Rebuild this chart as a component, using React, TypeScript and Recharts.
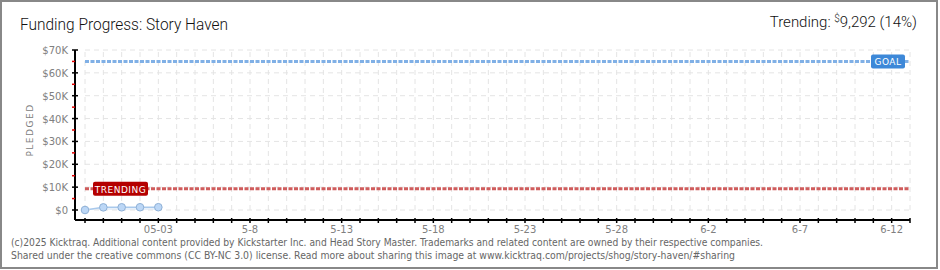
import React from 'react';
import { ComposedChart, Area, XAxis, YAxis, ReferenceLine } from 'recharts';

const days = [
  '4-29', '4-30', '5-1', '5-2', '5-3', '5-4', '5-5', '5-6', '5-7', '5-8',
  '5-9', '5-10', '5-11', '5-12', '5-13', '5-14', '5-15', '5-16', '5-17', '5-18',
  '5-19', '5-20', '5-21', '5-22', '5-23', '5-24', '5-25', '5-26', '5-27', '5-28',
  '5-29', '5-30', '5-31', '6-1', '6-2', '6-3', '6-4', '6-5', '6-6', '6-7',
  '6-8', '6-9', '6-10', '6-11', '6-12', '6-13',
];
const labelDays = ['5-3', '5-8', '5-13', '5-18', '5-23', '5-28', '6-2', '6-7', '6-12'];
const tickLabels = ['05-03', '5-8', '5-13', '5-18', '5-23', '5-28', '6-2', '6-7', '6-12'];
const pledged = [0, 1150, 1180, 1200, 1220];
const yTicks = [0, 5000, 10000, 15000, 20000, 25000, 30000, 35000, 40000, 45000, 50000, 55000, 60000, 65000, 70000];
const yGrid = [0, 10000, 20000, 30000, 40000, 50000, 60000, 70000];
const goal = 65000;
const trending = 9292;

const data = pledged.map((v, i) => ({ day: i, pledged: v }));
const lastDay = days.length - 1;

const tickFont = 'DejaVu Sans, sans-serif';

function YTick(props: any) {
  const { x, y, payload } = props;
  const major = payload.value % 10000 === 0;
  return (
    <g>
      {major ? (
        <line x1={x - 3} x2={x + 3} y1={y} y2={y} stroke="#000" strokeWidth={1.5} />
      ) : (
        <line x1={x - 3} x2={x} y1={y} y2={y} stroke="#e00000" strokeWidth={1.5} />
      )}
      {major && (
        <text x={x - 7} y={y + 4} textAnchor="end" fontSize={10} fill="#808080" fontFamily={tickFont}>
          ${payload.value / 1000 > 0 ? payload.value / 1000 + 'K' : '0'}
        </text>
      )}
    </g>
  );
}

function XTick(props: any) {
  const { x, y, payload } = props;
  const idx = labelDays.indexOf(days[payload.value]);
  return (
    <g>
      <line x1={x} x2={x} y1={y - 2} y2={y + 3} stroke="#000" strokeWidth={1.5} />
      {idx >= 0 && (
        <text x={x} y={y + 13} textAnchor="middle" fontSize={10} fill="#808080" fontFamily={tickFont}>
          {tickLabels[idx]}
        </text>
      )}
    </g>
  );
}

function tag(text: string, fill: string, align: 'left' | 'right') {
  return (props: any) => {
    const vb = props.viewBox || {};
    const w = align === 'left' ? 55 : 34;
    const bx = align === 'left' ? vb.x + 8 : vb.x + vb.width - 5 - w;
    return (
      <g>
        <rect x={bx} y={vb.y - 7} width={w} height={14} rx={2} fill={fill} />
        <text x={bx + w / 2} y={vb.y + 4} textAnchor="middle" fontSize={9} fill="#fff" fontFamily={tickFont} letterSpacing={0.5}>
          {text}
        </text>
      </g>
    );
  };
}

export default function App() {
  return (
    <div style={{ position: 'relative', width: 940, height: 270, background: '#fff' }}>
      <style>{'body{margin:0}'}</style>
      <ComposedChart width={940} height={270} data={data} margin={{ top: 50, right: 30, bottom: 20, left: 0 }}>
        <XAxis
          dataKey="day"
          type="number"
          domain={[0, lastDay]}
          ticks={days.map((_, i) => i)}
          interval={0}
          padding={{ left: 10, right: 0 }}
          height={30}
          tickSize={0}
          tickMargin={0}
          tick={<XTick />}
          axisLine={{ stroke: '#000', strokeWidth: 2 }}
        />
        <YAxis
          type="number"
          domain={[0, 70000]}
          ticks={yTicks}
          interval={0}
          width={75}
          padding={{ top: 0, bottom: 10 }}
          tickSize={0}
          tickMargin={0}
          tick={<YTick />}
          axisLine={{ stroke: '#000', strokeWidth: 2 }}
        />
        {days.map((_, i) => (
          <ReferenceLine
            key={'v' + i}
            segment={[{ x: i, y: 0 }, { x: i, y: 70000 }]}
            stroke="#e4e4e4"
            strokeDasharray="5 4"
          />
        ))}
        {yGrid.map((v) => (
          <ReferenceLine
            key={'h' + v}
            segment={[{ x: 0, y: v }, { x: lastDay, y: v }]}
            stroke="#e4e4e4"
            strokeDasharray="5 4"
          />
        ))}
        <ReferenceLine
          segment={[{ x: 0, y: goal }, { x: lastDay, y: goal }]}
          stroke="#80b0e6"
          strokeWidth={3}
          strokeDasharray="4 1.5"
          label={tag('GOAL', '#3d88d8', 'right')}
        />
        <ReferenceLine
          segment={[{ x: 0, y: trending }, { x: lastDay, y: trending }]}
          stroke="#cf5c5c"
          strokeWidth={3}
          strokeDasharray="4 1.5"
          label={tag('TRENDING', '#b40000', 'left')}
        />
        <Area
          type="linear"
          dataKey="pledged"
          stroke="#a9c9ec"
          strokeWidth={1.5}
          fill="#e6f0fb"
          fillOpacity={1}
          dot={{ r: 3.8, fill: '#bcd7f6', stroke: '#8eb0d6', strokeWidth: 1 }}
          isAnimationActive={false}
        />
      </ComposedChart>
      <svg width={940} height={270} style={{ position: 'absolute', left: 0, top: 0, pointerEvents: 'none' }}>
        <rect x={1} y={1} width={936} height={267} fill="none" stroke="#888" strokeWidth={2} />
        <text x={20} y={30} fontSize={16} fontWeight={300} fill="#111" fontFamily="Roboto, sans-serif" textLength={208} lengthAdjust="spacingAndGlyphs">
          Funding Progress: Story Haven
        </text>
        <text x={917} y={27} textAnchor="end" fontSize={15} fontWeight={300} fill="#111" fontFamily="Roboto, sans-serif">
          Trending:{'  '}
          <tspan fontSize={10} dy={-5}>$</tspan>
          <tspan dy={5}>9,292 (14%)</tspan>
        </text>
        <text
          transform="translate(33,130) rotate(-90)"
          textAnchor="middle"
          fontSize={9}
          fill="#808080"
          fontFamily={tickFont}
          letterSpacing={1.5}
        >
          PLEDGED
        </text>
        <text x={11} y={246} fontSize={10} fill="#666" fontFamily="DejaVu Sans, sans-serif" textLength={752} lengthAdjust="spacingAndGlyphs">
          (c)2025 Kicktraq. Additional content provided by Kickstarter Inc. and Head Story Master. Trademarks and related content are owned by their respective companies.
        </text>
        <text x={11} y={259} fontSize={10} fill="#666" fontFamily="DejaVu Sans, sans-serif" textLength={724} lengthAdjust="spacingAndGlyphs">
          Shared under the creative commons (CC BY-NC 3.0) license. Read more about sharing this image at www.kicktraq.com/projects/shog/story-haven/#sharing
        </text>
      </svg>
    </div>
  );
}
